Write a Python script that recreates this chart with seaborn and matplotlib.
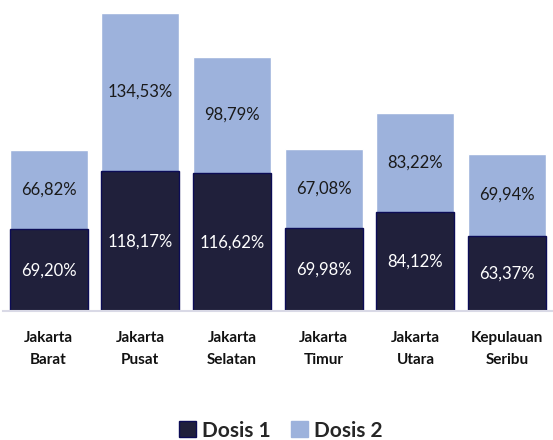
import pandas as pd
import numpy as np
import matplotlib
matplotlib.use("Agg")
import matplotlib.pyplot as plt
import seaborn as sns
from matplotlib.patches import Patch

# --- data ---
wilayah = ["Jakarta\nBarat", "Jakarta\nPusat", "Jakarta\nSelatan",
           "Jakarta\nTimur", "Jakarta\nUtara", "Kepulauan\nSeribu"]
dosis1 = [69.20, 118.17, 116.62, 69.98, 84.12, 63.37]
dosis2 = [66.82, 134.53, 98.79, 67.08, 83.22, 69.94]

df = pd.DataFrame({"wilayah": wilayah, "dosis1": dosis1, "dosis2": dosis2})
df["total"] = df["dosis1"] + df["dosis2"]

sns.set_style("white")
plt.rcParams["font.family"] = ["Lato", "DejaVu Sans"]

c_dark = "#20203b"
c_light = "#9db2dc"

fig = plt.figure(figsize=(5.53, 4.40), dpi=100)
ax = fig.add_axes([0.005, 0.293, 0.995, 0.682])

# stacked bars: full height in light colour, dosis 1 drawn over it
sns.barplot(x="wilayah", y="total", data=df, color=c_light, width=0.85,
            saturation=1, ax=ax)
sns.barplot(x="wilayah", y="dosis1", data=df, color=c_dark, width=0.85,
            saturation=1, edgecolor="#0c0c55", linewidth=1, ax=ax)

def fmt(v):
    return f"{v:.2f}%".replace(".", ",")

for i, row in df.iterrows():
    ax.text(i, row["dosis1"] / 2, fmt(row["dosis1"]), ha="center", va="center",
            color="white", fontsize=12)
    ax.text(i, row["dosis1"] + row["dosis2"] / 2, fmt(row["dosis2"]),
            ha="center", va="center", color="#1a1a1a", fontsize=12)

ax.set_xlim(-0.5, 5.5)
ax.set_ylim(0, 254)
ax.set_xlabel("")
ax.set_ylabel("")
ax.set_yticks([])
for s in ["top", "right", "left"]:
    ax.spines[s].set_visible(False)
ax.spines["bottom"].set_color("#d9d9e6")
ax.spines["bottom"].set_linewidth(1.5)
ax.tick_params(axis="x", length=0, pad=14)
plt.setp(ax.get_xticklabels(), fontweight="bold", fontsize=11, color="#111111",
         linespacing=1.75)

handles = [Patch(facecolor=c_dark, edgecolor="#0c0c55", label="Dosis 1"),
           Patch(facecolor=c_light, edgecolor=c_light, label="Dosis 2")]
fig.legend(handles=handles, loc="lower center", ncol=2, frameon=False,
           bbox_to_anchor=(0.508, -0.032), prop={"weight": "bold", "size": 15},
           handlelength=0.8, handleheight=0.8, handletextpad=0.3,
           columnspacing=1.0, borderpad=0.15)

fig.savefig("out.png", dpi=100)
